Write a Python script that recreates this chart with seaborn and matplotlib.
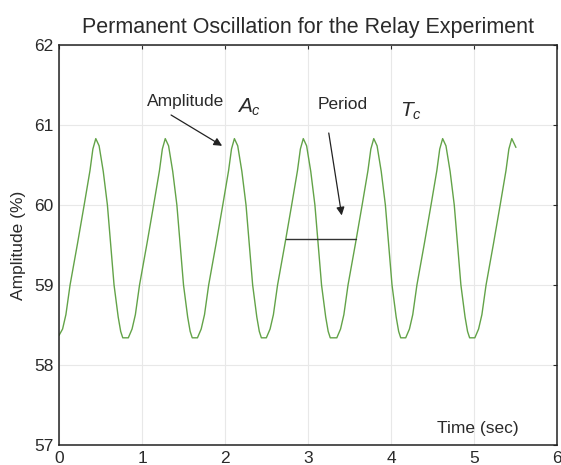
import matplotlib
matplotlib.use("Agg")
import matplotlib.pyplot as plt
import seaborn as sns
import pandas as pd

# Relay-feedback test: controlled variable sampled over time
time_s = [
    0.000, 0.043, 0.083, 0.133, 0.223, 0.303, 0.373, 0.408, 0.443,
    0.483, 0.533, 0.583, 0.663, 0.713, 0.743, 0.768,
    0.835, 0.880, 0.920, 0.970, 1.060, 1.140, 1.210, 1.245, 1.280,
    1.320, 1.370, 1.420, 1.500, 1.550, 1.580, 1.605,
    1.668, 1.713, 1.753, 1.803, 1.893, 1.973, 2.043, 2.078, 2.113,
    2.153, 2.203, 2.253, 2.333, 2.383, 2.413, 2.438,
    2.498, 2.543, 2.583, 2.633, 2.723, 2.803, 2.873, 2.908, 2.943,
    2.983, 3.033, 3.083, 3.163, 3.213, 3.243, 3.268,
    3.347, 3.392, 3.432, 3.482, 3.572, 3.652, 3.722, 3.757, 3.792,
    3.832, 3.882, 3.932, 4.012, 4.062, 4.092, 4.117,
    4.177, 4.222, 4.262, 4.312, 4.402, 4.482, 4.552, 4.587, 4.622,
    4.662, 4.712, 4.762, 4.842, 4.892, 4.922, 4.947,
    5.010, 5.055, 5.095, 5.145, 5.235, 5.315, 5.385, 5.420, 5.455,
    5.505,
]
amplitude_pct = [
    58.37, 58.45, 58.63, 59.00, 59.52, 60.00, 60.43, 60.70, 60.83,
    60.74, 60.42, 60.00, 59.00, 58.60, 58.42, 58.34,
    58.34, 58.45, 58.63, 59.00, 59.52, 60.00, 60.43, 60.70, 60.83,
    60.74, 60.42, 60.00, 59.00, 58.60, 58.42, 58.34,
    58.34, 58.45, 58.63, 59.00, 59.52, 60.00, 60.43, 60.70, 60.83,
    60.74, 60.42, 60.00, 59.00, 58.60, 58.42, 58.34,
    58.34, 58.45, 58.63, 59.00, 59.52, 60.00, 60.43, 60.70, 60.83,
    60.74, 60.42, 60.00, 59.00, 58.60, 58.42, 58.34,
    58.34, 58.45, 58.63, 59.00, 59.52, 60.00, 60.43, 60.70, 60.83,
    60.74, 60.42, 60.00, 59.00, 58.60, 58.42, 58.34,
    58.34, 58.45, 58.63, 59.00, 59.52, 60.00, 60.43, 60.70, 60.83,
    60.74, 60.42, 60.00, 59.00, 58.60, 58.42, 58.34,
    58.34, 58.45, 58.63, 59.00, 59.52, 60.00, 60.43, 60.70, 60.83,
    60.72,
]

x_ticks = [0, 1, 2, 3, 4, 5, 6]
y_ticks = [57, 58, 59, 60, 61, 62]

# one oscillation period marked at this level
period_level = 59.58
period_start, period_end = 2.73, 3.575

sns.set_style("white")
plt.rcParams["font.family"] = ["Liberation Sans", "DejaVu Sans"]
plt.rcParams["mathtext.fontset"] = "custom"
plt.rcParams["mathtext.it"] = "Liberation Sans:italic"
plt.rcParams["mathtext.rm"] = "Liberation Sans"

text_color = "#2a2a2a"

fig = plt.figure(figsize=(5.61, 4.65), dpi=100)
ax = fig.add_axes([0.1052, 0.043, 0.8877, 0.8602])

df = pd.DataFrame({"t": time_s, "a": amplitude_pct})
sns.lineplot(data=df, x="t", y="a", sort=False, estimator=None,
             color="#63a348", linewidth=1.0, ax=ax)

ax.set_xlim(0, 6)
ax.set_ylim(57, 62)
ax.set_xticks(x_ticks)
ax.set_yticks(y_ticks)
ax.set_xlabel("")
ax.set_ylabel("")
ax.grid(True, color="#e8e8e8", linewidth=0.8)
ax.set_axisbelow(True)
for sp in ax.spines.values():
    sp.set_visible(True)
    sp.set_color("#222222")
    sp.set_linewidth(1.1)
ax.tick_params(direction="in", length=3, width=0.8, top=True, right=True,
               labelsize=12.5, colors=text_color, pad=4)

ax.set_title("Permanent Oscillation for the Relay Experiment",
             fontsize=15.5, color=text_color, pad=9)
fig.text(18 / 561, 0.473, "Amplitude (%)", rotation=90, ha="center",
         va="center", fontsize=12.5, color=text_color)

ax.text(4.553, 57.15, "Time (sec)", fontsize=12.5, color=text_color,
        ha="left", va="baseline")

# amplitude annotation
ax.text(1.063, 61.24, "Amplitude", fontsize=12.5, color=text_color,
        ha="left", va="baseline")
ax.text(2.14, 61.16, "$A_c$", fontsize=15, color=text_color,
        ha="left", va="baseline")
ax.annotate("", xy=(1.965, 60.74), xytext=(1.35, 61.125),
            arrowprops=dict(arrowstyle="-|>", color="#222222", lw=0.9,
                            mutation_scale=12, shrinkA=0, shrinkB=0))

# period annotation
ax.text(3.116, 61.2, "Period", fontsize=12.5, color=text_color,
        ha="left", va="baseline")
ax.text(4.106, 61.1, "$T_c$", fontsize=15, color=text_color,
        ha="left", va="baseline")
ax.annotate("", xy=(3.406, 59.87), xytext=(3.25, 60.9),
            arrowprops=dict(arrowstyle="-|>", color="#222222", lw=0.9,
                            mutation_scale=12, shrinkA=0, shrinkB=0))
ax.plot([period_start, period_end], [period_level, period_level],
        color="#333333", linewidth=1.0)

fig.savefig("out.png", dpi=100)
